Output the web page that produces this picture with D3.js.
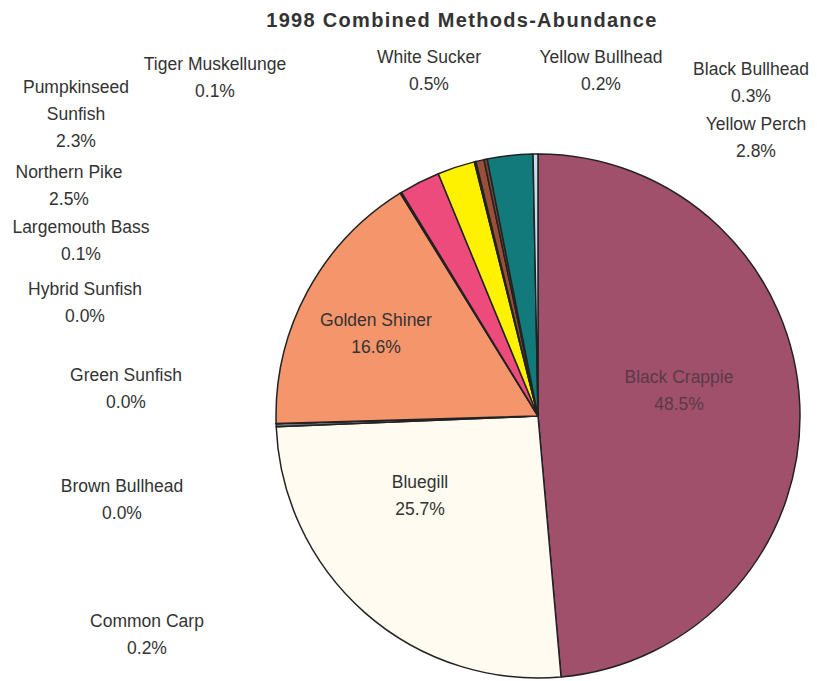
<!DOCTYPE html>
<html>
<head>
<meta charset="utf-8">
<script src="https://cdn.jsdelivr.net/npm/d3@7"></script>
<style>
  body { margin: 0; background: #fff; }
  text { font-family: "Liberation Sans", Arial, sans-serif; fill: #333; }
</style>
</head>
<body>
<div id="chart"></div>
<script>
// species, in slice order (clockwise from 12 o'clock)
const species = ['Black Crappie', 'Bluegill', 'Common Carp', 'Brown Bullhead', 'Green Sunfish',
    'Hybrid Sunfish', 'Golden Shiner', 'Largemouth Bass', 'Northern Pike', 'Pumpkinseed Sunfish',
    'Tiger Muskellunge', 'White Sucker', 'Yellow Bullhead', 'Yellow Perch', 'Black Bullhead'];
// percent of total catch
const abundance = [48.5, 25.7, 0.2, 0.0, 0.0, 0.0, 16.6, 0.1, 2.5, 2.3, 0.1, 0.5, 0.2, 2.8, 0.3];
const sliceColors = ['#a0506a', '#fffbf0', '#6b6f75', '#888', '#888', '#888', '#f5956c', '#3c6060',
    '#ee4b7d', '#fff200', '#2b84c4', '#9a5038', '#7a4535', '#137a7c', '#c9dcef'];

// where each label sits (centre x, first baseline) and how it wraps
const labelLayout = {
    'Black Crappie':       {x: 679, y: 383, inside: true, color: '#5a3a48'},
    'Bluegill':            {x: 420, y: 488, inside: true},
    'Golden Shiner':       {x: 376, y: 326, inside: true},
    'Common Carp':         {x: 147, y: 627},
    'Brown Bullhead':      {x: 122, y: 492},
    'Green Sunfish':       {x: 126, y: 381},
    'Hybrid Sunfish':      {x: 85,  y: 295},
    'Largemouth Bass':     {x: 81,  y: 233},
    'Northern Pike':       {x: 69,  y: 178},
    'Pumpkinseed Sunfish': {x: 76,  y: 93, lines: ['Pumpkinseed', 'Sunfish']},
    'Tiger Muskellunge':   {x: 215, y: 70},
    'White Sucker':        {x: 429, y: 63},
    'Yellow Bullhead':     {x: 601, y: 63},
    'Black Bullhead':      {x: 751, y: 75},
    'Yellow Perch':        {x: 756, y: 130}
};

const W = 817, H = 681;
const cx = 538, cy = 416, radius = 262;
const lineGap = 27;

const svg = d3.select('#chart').append('svg')
    .attr('width', W)
    .attr('height', H);

// title
svg.append('text')
    .attr('x', 462)
    .attr('y', 27)
    .attr('text-anchor', 'middle')
    .style('font-size', '20px')
    .style('font-weight', 'bold')
    .style('letter-spacing', '1.3px')
    .text('1998 Combined Methods-Abundance');

const data = species.map((s, i) => ({name: s, value: abundance[i], color: sliceColors[i]}));

const pie = d3.pie()
    .sort(null)
    .value(d => d.value)
    .startAngle(0)
    .endAngle(2 * Math.PI);

const arc = d3.arc()
    .innerRadius(0)
    .outerRadius(radius);

const g = svg.append('g')
    .attr('transform', `translate(${cx},${cy})`);

g.selectAll('path')
    .data(pie(data))
    .join('path')
    .attr('d', arc)
    .attr('fill', d => d.data.color)
    .attr('stroke', '#222')
    .attr('stroke-width', 1.5)
    .attr('stroke-linejoin', 'round');

// labels
const labels = svg.append('g');
data.forEach(d => {
    const pos = labelLayout[d.name];
    const lines = (pos.lines || [d.name]).concat([d.value.toFixed(1) + '%']);
    const t = labels.append('text')
        .attr('text-anchor', 'middle')
        .style('font-size', '17.5px')
        .style('fill', pos.color || '#333');
    lines.forEach((ln, k) => {
        t.append('tspan')
            .attr('x', pos.x)
            .attr('y', pos.y + k * lineGap)
            .text(ln);
    });
});
</script>
</body>
</html>
